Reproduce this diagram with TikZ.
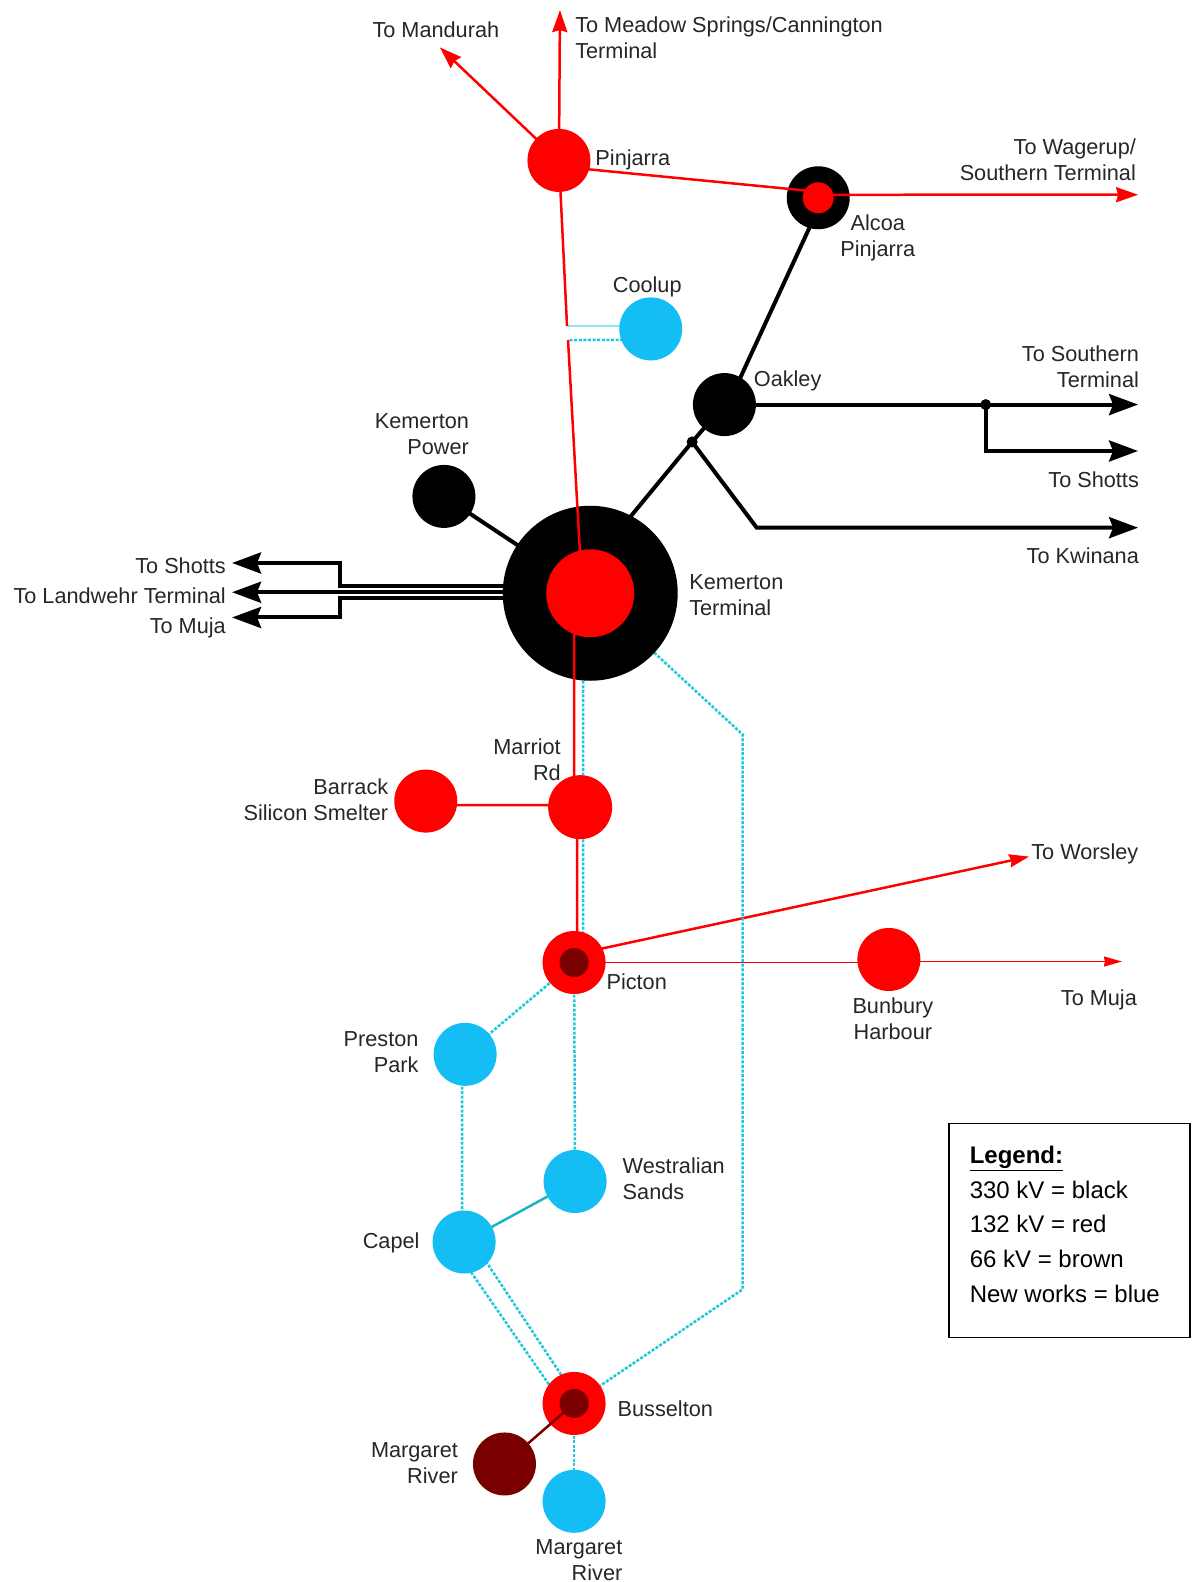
\documentclass[tikz,border=0pt]{standalone}
\usepackage{fontspec}
\setmainfont{Liberation Sans}
\usetikzlibrary{arrows.meta,backgrounds}
\definecolor{busred}{RGB}{255,0,0}
\definecolor{busblue}{RGB}{20,190,245}
\definecolor{busbrown}{RGB}{122,0,0}
\definecolor{lineblue}{RGB}{30,200,220}
\definecolor{palecyan}{RGB}{150,228,240}
\definecolor{inktext}{RGB}{38,38,38}
\tikzset{
  sub/.style={circle,inner sep=0pt,minimum size=#1,draw=none},
  blk/.style={sub=#1,fill=black},
  rd/.style={sub=#1,fill=busred},
  blu/.style={sub=#1,fill=busblue},
  brn/.style={sub=#1,fill=busbrown},
  lbl/.style={inner sep=0pt,text=inktext,font=\fontsize{21.7}{25.7}\selectfont,align=#1},
  lblL/.style={lbl=left,anchor=west},
  lblR/.style={lbl=right,anchor=east},
  lblC/.style={lbl=center,anchor=center},
  hv/.style={line width=4pt,black},
  hvarrow/.style={hv,-{Stealth[length=29pt,width=21pt,inset=4pt]}},
  redln/.style={line width=2.5pt,busred},
  redthin/.style={line width=1.7pt,busred},
  redarrow/.style={redln,-{Stealth[length=22pt,width=15pt,inset=2pt]}},
  newdot/.style={line width=2.5pt,lineblue,dash pattern=on 3pt off 1.6pt},
  newsolid/.style={line width=2.5pt,lineblue!90!black},
}
\begin{document}
\begin{tikzpicture}[x=1.009pt,y=-1.009pt]
\useasboundingbox (0,0) rectangle (1181.4,1568);
% substations (outer discs)
\node[rd=63pt] (pin) at (554,159) {};
\node[blk=63pt] (alc) at (811,196) {};
\node[blu=63pt] (coo) at (645,326) {};
\node[blk=63pt] (oak) at (718,401) {};
\node[blk=63pt] (kpw) at (440,492) {};
\node[blk=175pt] (kem) at (585,588) {};
\node[rd=64pt] (mar) at (575,800) {};
\node[rd=63pt] (bar) at (422,794) {};
\node[rd=63pt] (pic) at (569,954) {};
\node[rd=63pt] (bun) at (881,951) {};
\node[blu=63pt] (pre) at (461,1045) {};
\node[blu=63pt] (wes) at (570,1171) {};
\node[blu=63pt] (cap) at (460,1231) {};
\node[rd=63pt] (bus) at (569,1391) {};
\node[brn=63pt] (mrb) at (500,1451) {};
\node[blu=63pt] (mrn) at (569,1488) {};
% small junctions
\node[blk=11pt] (ja) at (686,438) {};
\node[blk=11pt] (jb) at (977,401) {};
% free ends and bends
\coordinate (tMan) at (436,47);
\coordinate (tMea) at (555,10);
\coordinate (tWag) at (1128,193);
\coordinate (tSou) at (1128,401);
\coordinate (bSho) at (977,447);
\coordinate (tSho) at (1128,447);
\coordinate (bKwi) at (750,523);
\coordinate (tKwi) at (1128,523);
\coordinate (tWor) at (1020,849);
\coordinate (tMuj) at (1112,953);
\coordinate (bW1) at (337,581);
\coordinate (bW1b) at (337,558);
\coordinate (tW1) at (230,558);
\coordinate (tW2) at (230,587);
\coordinate (bW3) at (337,593);
\coordinate (bW3b) at (337,612);
\coordinate (tW3) at (230,612);
\coordinate (gapA) at (562,323);
\coordinate (gapB) at (563,337);
\coordinate (e1) at (736,728);
\coordinate (e2) at (736,1278);
\begin{scope}[on background layer]
  \draw[hv] ([xshift=5pt]alc.center) -- ([xshift=3.5pt]oak.center);
  \draw[hv] (oak.center) -- (ja.center) -- ([xshift=-23pt]kem.center);
  \draw[hv] (kpw.center) -- (kem.center);
  \draw[hvarrow] (oak.center) -- (tSou);
  \draw[hvarrow] (jb.center) -- (bSho) -- (tSho);
  \draw[hvarrow] (ja.center) -- (bKwi) -- (tKwi);
  \draw[hvarrow] (kem.center |- bW1) -- (bW1) -- (bW1b) -- (tW1);
  \draw[hvarrow] (kem.center |- tW2) -- (tW2);
  \draw[hvarrow] (kem.center |- bW3) -- (bW3) -- (bW3b) -- (tW3);
  \draw[redarrow] (pin.center) -- (tMan);
  \draw[redarrow] (pin.center) -- (tMea);
  \draw[redln,-{Stealth[length=20pt,width=13pt,inset=2pt]}] ([yshift=8pt]pic.center) -- (tWor);
  \draw[redthin] (pic.center) -- (bun.center |- pic.center);
  \draw[redthin,-{Stealth[length=18pt,width=10pt,inset=1pt]}] (bun.center |- tMuj) -- (tMuj);
  \draw[redln] ([xshift=-3pt]mar.center) -- ([xshift=3pt]pic.center);
  \draw[redln] ([yshift=-4pt]bar.center) -- ([yshift=2pt]mar.center);
  % new works
  \draw[line width=2pt,palecyan] ([yshift=3pt]coo.center) -- (gapA);
  \draw[newdot] ([yshift=-11pt]coo.center) -- (gapB);
  \draw[newdot] ([xshift=-7pt]kem.center) -- ([xshift=3pt]mar.center);
  \draw[newdot] ([xshift=3pt]mar.center) -- ([xshift=9pt]pic.center);
  \draw[newdot] (pic.center) -- (wes.center);
  \draw[newdot] (pic.center) -- (pre.center);
  \draw[newdot] ([xshift=-3pt]pre.center) -- ([xshift=-2pt]cap.center);
  \draw[newsolid] (cap.center) -- (wes.center);
  \draw[newdot] ([xshift=-14pt]cap.center) -- ([xshift=-12pt]bus.center);
  \draw[newdot] ([xshift=9pt]cap.center) -- ([xshift=6pt]bus.center);
  \draw[newdot] (kem.center) -- (e1) -- (e2) -- (bus.center);
  \draw[newdot] (bus.center) -- (mrn.center);
\end{scope}
% lines that run over the outer discs
\draw[redln] (pin.center) -- (gapA);
\draw[redln] (gapB) -- ([xshift=-8pt]kem.center);
\draw[redln] ([xshift=-16pt]kem.center) -- ([xshift=-6pt]mar.center);
\draw[redln] ([yshift=-6pt]pin.center) -- ([yshift=6pt]alc.center);
\draw[redarrow] ([yshift=3pt]alc.center) -- (tWag);
\draw[line width=2.5pt,busbrown] (bus.center) -- (mrb.center);
% inner discs
\node[rd=31pt] (alci) at (alc.center) {};
\node[rd=88pt] (kemi) at (kem.center) {};
\node[brn=29pt] (pici) at (pic.center) {};
\node[brn=29pt] (busi) at (bus.center) {};
% labels
\node[lblC] (l1) at (432,29) {To Mandurah};
\node[lblL] (l2) at (570,37.5) {To Meadow Springs/Cannington\\Terminal};
\node[lblL] (l3) at (590,158.5) {Pinjarra};
\node[lblR] (l4) at (1126,158.5) {To Wagerup/\\Southern Terminal};
\node[lblC] (l5) at (870,236) {Alcoa\\Pinjarra};
\node[lblC] (l6) at (641.5,284) {Coolup};
\node[lblL] (l7) at (747,378) {Oakley};
\node[lblR] (l8) at (1129,363.5) {To Southern\\Terminal};
\node[lblR] (l9) at (1129,475) {To Shotts};
\node[lblR] (l10) at (1129,551) {To Kwinana};
\node[lblR] (l11) at (465,430) {Kemerton\\Power};
\node[lblL] (l12) at (683,590) {Kemerton\\Terminal};
\node[lblR] (l13) at (224,561) {To Shotts};
\node[lblR] (l14) at (224,590) {To Landwehr Terminal};
\node[lblR] (l15) at (224,622) {To Muja};
\node[lblR] (l16) at (556,753) {Marriot\\Rd};
\node[lblR] (l17) at (385,792.5) {Barrack\\Silicon Smelter};
\node[lblL] (l18) at (1022,846) {To Worsley};
\node[lblL] (l19) at (601,973) {Picton};
\node[lblC] (l20) at (885,1009.5) {Bunbury\\Harbour};
\node[lblR] (l21) at (1127,991) {To Muja};
\node[lblR] (l22) at (415,1042.5) {Preston\\Park};
\node[lblL] (l23) at (617,1168.5) {Westralian\\Sands};
\node[lblR] (l24) at (416,1232) {Capel};
\node[lblL] (l25) at (612,1396) {Busselton};
\node[lblR] (l26) at (454,1450) {Margaret\\River};
\node[lblR] (l27) at (617,1546.5) {Margaret\\River};
% legend
\node[draw=black,line width=1.5pt,minimum width=241pt,minimum height=214pt,anchor=north west,inner sep=0pt] (legbox) at (940,1113) {};
\node[anchor=north west,inner sep=0pt,align=left,font=\fontsize{24}{34.6}\selectfont,text=black] (legtxt) at (961,1136)
 {\textbf{\underline{Legend:}}\\330 kV = black\\132 kV = red\\66 kV = brown\\New works = blue};
\end{tikzpicture}
\end{document}
